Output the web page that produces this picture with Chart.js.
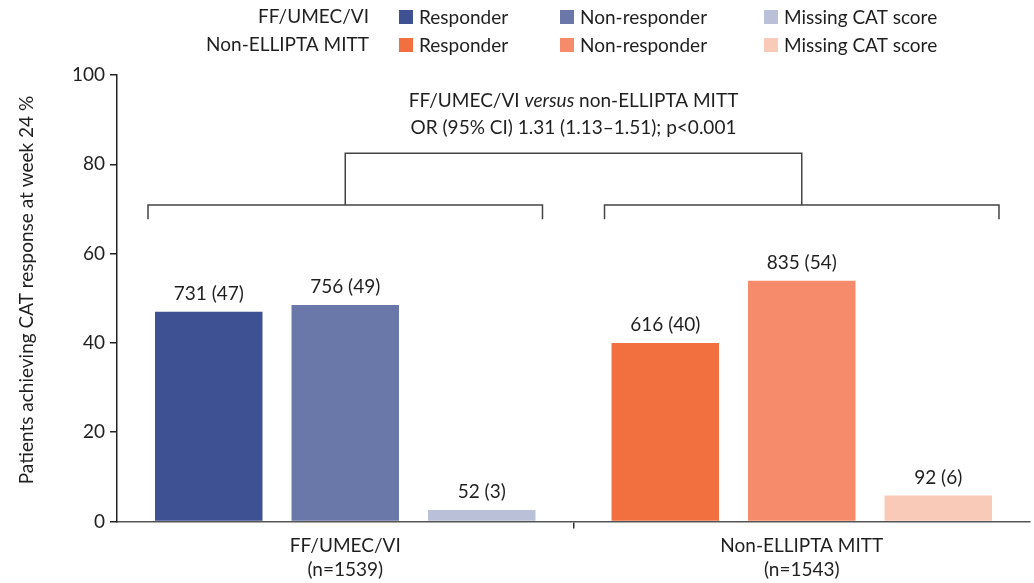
<!DOCTYPE html>
<html>
<head>
<meta charset="utf-8">
<script src="https://cdn.jsdelivr.net/npm/chart.js@4"></script>
<style>
  html, body { margin: 0; padding: 0; background: #fff; }
  #wrap { width: 1034px; height: 583px; }
</style>
</head>
<body>
<div id="wrap"><canvas id="chart" width="1034" height="583"></canvas></div>
<script>
// ===================== DATA =====================
const groups = [["FF/UMEC/VI", "(n=1539)"], ["Non-ELLIPTA MITT", "(n=1543)"]];
const legendGroups = ["FF/UMEC/VI", "Non-ELLIPTA MITT"];
const seriesNames = ["Responder", "Non-responder", "Missing CAT score"];

// % of patients
const responder = [47.0, 40.0];
const nonResponder = [48.5, 53.9];
const missing = [2.6, 5.8];

// n (%) printed above the bars
const responderLabels = ["731 (47)", "616 (40)"];
const nonResponderLabels = ["756 (49)", "835 (54)"];
const missingLabels = ["52 (3)", "92 (6)"];

const yTicks = [0, 20, 40, 60, 80, 100];

const comparisonText = ["FF/UMEC/VI ", "versus", " non-ELLIPTA MITT"];
const statText = "OR (95% CI) 1.31 (1.13\u20131.51); p<0.001";
const yTitle = "Patients achieving CAT response at week 24 %";

// ===================== STYLE =====================
const blues = ["#3d5193", "#6a77a9", "#b9c0d7"];
const oranges = ["#f26f40", "#f58b6a", "#f9cab7"];
const FONT = "Lato";
const FS = 19;
const TXT = "#1f1f1f";
const LINE = "#444";

// ===================== PLUGIN: extra drawing =====================
const extras = {
  id: "extras",
  afterDraw(chart) {
    const ctx = chart.ctx;
    const y = chart.scales.y;
    ctx.save();

    // legend
    ctx.font = `${FS}px ${FONT}`;
    ctx.textBaseline = "middle";
    const rowsY = [17, 45];
    const boxX = [399, 560, 764];
    legendGroups.forEach((g, r) => {
      ctx.fillStyle = TXT;
      ctx.textAlign = "right";
      ctx.fillText(g, 369, rowsY[r]);
      const shades = r === 0 ? blues : oranges;
      seriesNames.forEach((s, i) => {
        ctx.fillStyle = shades[i];
        ctx.fillRect(boxX[i], rowsY[r] - 7, 14, 14);
        ctx.fillStyle = TXT;
        ctx.textAlign = "left";
        ctx.fillText(s, boxX[i] + 20, rowsY[r] + 1);
      });
    });

    // value labels above bars
    const labelSets = [responderLabels, nonResponderLabels, missingLabels];
    ctx.textAlign = "center";
    ctx.textBaseline = "alphabetic";
    chart.data.datasets.forEach((ds, di) => {
      chart.getDatasetMeta(di).data.forEach((bar, i) => {
        ctx.fillText(labelSets[di][i], bar.x, bar.y - 12);
      });
    });

    // brackets
    const metaFirst = chart.getDatasetMeta(0).data;
    const metaLast = chart.getDatasetMeta(2).data;
    const yLow = y.getPixelForValue(70.9);
    const yTickEnd = y.getPixelForValue(67.7);
    const yTop = y.getPixelForValue(82.5);
    ctx.strokeStyle = LINE;
    ctx.lineWidth = 1.5;
    const centers = [];
    for (let i = 0; i < groups.length; i++) {
      const x0 = metaFirst[i].x - metaFirst[i].width / 2 - 7;
      const x1 = metaLast[i].x + metaLast[i].width / 2 + 7;
      centers.push(chart.scales.x.getPixelForValue(i));
      ctx.beginPath();
      ctx.moveTo(x0, yTickEnd);
      ctx.lineTo(x0, yLow);
      ctx.lineTo(x1, yLow);
      ctx.lineTo(x1, yTickEnd);
      ctx.stroke();
    }
    ctx.beginPath();
    ctx.moveTo(centers[0], yLow);
    ctx.lineTo(centers[0], yTop);
    ctx.lineTo(centers[1], yTop);
    ctx.lineTo(centers[1], yLow);
    ctx.stroke();

    // comparison text
    const midX = (centers[0] + centers[1]) / 2;
    const line1Y = y.getPixelForValue(94.1);
    const line2Y = y.getPixelForValue(88.2);
    const fonts = [`${FS}px ${FONT}`, `italic ${FS}px ${FONT}`, `${FS}px ${FONT}`];
    const widths = comparisonText.map((t, i) => { ctx.font = fonts[i]; return ctx.measureText(t).width; });
    const total = widths.reduce((a, b) => a + b, 0);
    let cx = midX - total / 2;
    ctx.textAlign = "left";
    ctx.textBaseline = "middle";
    ctx.fillStyle = TXT;
    comparisonText.forEach((t, i) => {
      ctx.font = fonts[i];
      ctx.fillText(t, cx, line1Y);
      cx += widths[i];
    });
    ctx.font = `${FS}px ${FONT}`;
    ctx.textAlign = "center";
    ctx.fillText(statText, midX, line2Y);

    // y axis title
    ctx.translate(27, 290);
    ctx.rotate(-Math.PI / 2);
    ctx.textAlign = "center";
    ctx.textBaseline = "middle";
    ctx.fillText(yTitle, 0, 0);

    ctx.restore();
  }
};

// ===================== CHART =====================
const makeSet = (name, values, idx) => ({
  label: name,
  data: values,
  backgroundColor: [blues[idx], oranges[idx]],
  borderWidth: 0,
  categoryPercentage: 0.897,
  barPercentage: 0.7875
});

new Chart(document.getElementById("chart"), {
  type: "bar",
  data: {
    labels: groups,
    datasets: [
      makeSet(seriesNames[0], responder, 0),
      makeSet(seriesNames[1], nonResponder, 1),
      makeSet(seriesNames[2], missing, 2)
    ]
  },
  options: {
    responsive: false,
    animation: false,
    layout: { padding: { top: 75, right: 4, left: 0, bottom: 0 } },
    plugins: { legend: { display: false }, tooltip: { enabled: false } },
    scales: {
      x: {
        grid: {
          offset: true,
          drawOnChartArea: false,
          tickLength: 7,
          lineWidth: 1.5,
          color: c => (c.index === 1 ? "#333" : "rgba(0,0,0,0)")
        },
        border: { color: "#555", width: 1.5 },
        ticks: { font: { family: FONT, size: FS, lineHeight: 1.26 }, color: TXT, padding: 5 },
        afterFit: s => { s.height = 61.5; }
      },
      y: {
        min: 0,
        max: 100,
        afterBuildTicks: s => { s.ticks = yTicks.map(v => ({ value: v })); },
        grid: { drawOnChartArea: false, tickLength: 7, color: "#222", lineWidth: 1.5 },
        border: { color: "#222", width: 1.5 },
        ticks: { font: { family: FONT, size: FS }, color: TXT, padding: 5 },
        afterFit: s => { s.width = 117; }
      }
    }
  },
  plugins: [extras]
});
</script>
</body>
</html>
